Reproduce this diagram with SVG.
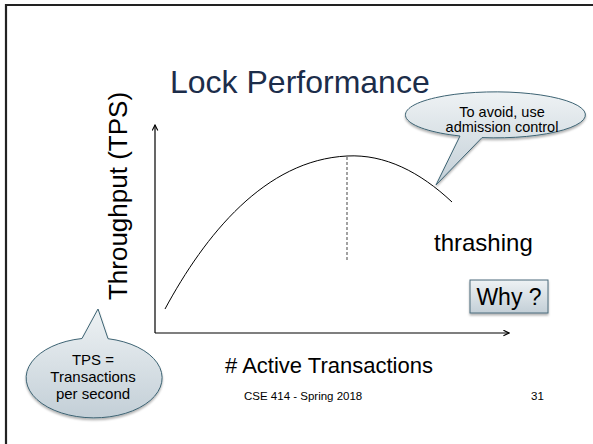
<svg xmlns="http://www.w3.org/2000/svg" width="593" height="444" viewBox="0 0 593 444">
  <style>
    .sans { font-family: "Liberation Sans", Arial, sans-serif; fill: #000; }
    .title { font-size: 32px; fill: #1c2d4a; }
    .axis { stroke: #000; stroke-width: 1.2; fill: none; }
    .curve { stroke: #000; stroke-width: 1; fill: none; }
    .bubble { fill: url(#bubbleFill); stroke: #3d6373; stroke-width: 1; filter: url(#shadow); }
    .note { font-size: 14.5px; text-anchor: middle; }
  </style>
  <defs>
    <linearGradient id="bubbleFill" x1="0" y1="0" x2="0" y2="1">
      <stop offset="0" stop-color="#eef2f4"/>
      <stop offset="1" stop-color="#c3cfd7"/>
    </linearGradient>
    <filter id="shadow" x="-10%" y="-10%" width="120%" height="130%">
      <feDropShadow dx="0" dy="2" stdDeviation="1.2" flood-color="#000" flood-opacity="0.3"/>
    </filter>
    <marker id="arrow" viewBox="0 0 10 10" refX="9" refY="5" markerWidth="7" markerHeight="7" orient="auto" markerUnits="userSpaceOnUse">
      <path d="M1,1 L9,5 L1,9" fill="none" stroke="#000" stroke-width="1.6"/>
    </marker>
  </defs>

  <rect width="593" height="444" fill="#fff"/>

  <!-- slide frame -->
  <path d="M6,444 L6,5 L593,5" fill="none" stroke="#222" stroke-width="2.2"/>

  <text class="sans title" x="170" y="93">Lock Performance</text>

  <!-- chart -->
  <g id="connectors">
    <line class="axis" x1="155" y1="333" x2="155" y2="125" marker-end="url(#arrow)"/>
    <line class="axis" x1="155" y1="333" x2="509" y2="333" marker-end="url(#arrow)"/>
    <path class="curve" d="M165,309 C205,235 265,160 347,156 C385,154 420,172 452,202"/>
    <line x1="347" y1="157" x2="347" y2="260" stroke="#666" stroke-width="1.2" stroke-dasharray="3,2"/>
  </g>

  <text class="sans" font-size="26" transform="translate(127,196) rotate(-90)" text-anchor="middle">Throughput (TPS)</text>
  <text class="sans" font-size="22" x="225" y="373"># Active Transactions</text>
  <text class="sans" font-size="24" x="434" y="251">thrashing</text>

  <g id="admission-note">
    <path class="bubble" d="M460,136 L436,185 L482,137.6 A90,23 0 1 0 460,136 Z"/>
    <text class="sans note" x="502" y="117">To avoid, use</text>
    <text class="sans note" x="502" y="132">admission control</text>
  </g>

  <g id="why-box">
    <rect x="470" y="280" width="78" height="33" fill="url(#bubbleFill)" stroke="#4a6b7b" stroke-width="1" filter="url(#shadow)"/>
    <text class="sans" font-size="23" x="509" y="305" text-anchor="middle">Why ?</text>
  </g>

  <g id="tps-note">
    <path class="bubble" d="M82,338.5 L98,309 L108,338.7 A68,40 0 1 1 82,338.5 Z"/>
    <text class="sans" font-size="15" x="93" y="365" text-anchor="middle">TPS =</text>
    <text class="sans" font-size="15" x="93" y="382" text-anchor="middle">Transactions</text>
    <text class="sans" font-size="15" x="93" y="399" text-anchor="middle">per second</text>
  </g>

  <text class="sans" font-size="11.5" x="244" y="400">CSE 414 - Spring 2018</text>
  <text class="sans" font-size="11.5" x="531" y="400">31</text>
</svg>
